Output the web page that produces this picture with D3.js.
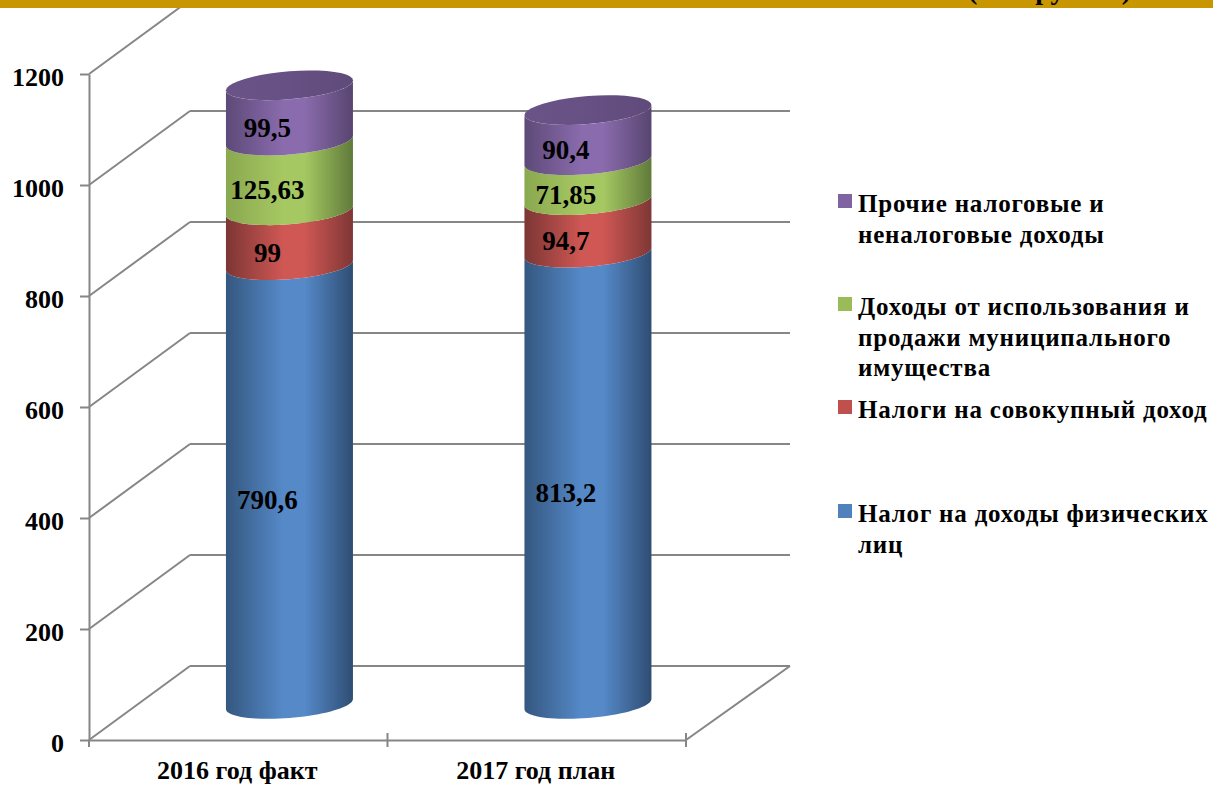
<!DOCTYPE html>
<html lang="ru">
<head>
<meta charset="utf-8">
<script src="https://cdn.jsdelivr.net/npm/d3@7"></script>
<style>
  html, body { margin: 0; background: #fff; overflow: hidden; }
  svg { display: block; }
  text { font-family: "Liberation Serif", serif; font-weight: bold; fill: #000; }
  .axis path, .axis line, .grid line { stroke: #868686; stroke-width: 2; fill: none; }
</style>
</head>
<body>
<div id="chart"></div>
<script>
const categories = ['2016 год факт', '2017 год план'];
const yTicks = [0, 200, 400, 600, 800, 1000, 1200];
const seriesNames = [
  'Налог на доходы физических лиц',
  'Налоги на совокупный доход',
  'Доходы от использования и продажи муниципального имущества',
  'Прочие налоговые и неналоговые доходы'
];
const ndflValues = [790.6, 813.2];
const usnValues = [99, 94.7];
const propertyValues = [125.63, 71.85];
const otherValues = [99.5, 90.4];
const valueLabels = [
  ['790,6', '813,2'],
  ['99', '94,7'],
  ['125,63', '71,85'],
  ['99,5', '90,4']
];
const legendLines = [
  ['Налог на доходы физических', 'лиц'],
  ['Налоги на совокупный доход'],
  ['Доходы от использования и', 'продажи муниципального', 'имущества'],
  ['Прочие налоговые и', 'неналоговые доходы']
];
const titleTail = '(млн рублей)';

const width = 1213, height = 785;
const depthX = 101, depthY = 74;
const rx = 63.5, ry = 14, tilt = 5;
const legendBaselines = [522, 418, 315, 212];

const colors = [
  { mid: '#5589c8', dark: '#34577f', side: '#2f4d73' },
  { mid: '#cf5754', dark: '#7c3634', side: '#7e3735' },
  { mid: '#a6c862', dark: '#8aa84f', side: '#5f7a3a' },
  { mid: '#8a6bad', dark: '#5d4a78', side: '#584570' }
];
const legendColors = ['#4f81bd', '#c0504d', '#9bbb59', '#8064a2'];

const svg = d3.select('#chart').append('svg').attr('width', width).attr('height', height);

const x = d3.scaleBand().domain(categories).range([89, 686]);
const y = d3.scaleLinear().domain([0, 1200]).range([740, 74]);

const defs = svg.append('defs');
colors.forEach((c, i) => {
  const g = defs.append('linearGradient').attr('id', 'grad' + i);
  g.append('stop').attr('offset', '0%').attr('stop-color', c.dark);
  g.append('stop').attr('offset', '45%').attr('stop-color', c.mid);
  g.append('stop').attr('offset', '62%').attr('stop-color', c.mid);
  g.append('stop').attr('offset', '100%').attr('stop-color', c.side);
});
const capGrad = defs.append('linearGradient').attr('id', 'cap');
capGrad.append('stop').attr('offset', '0%').attr('stop-color', '#6a5386');
capGrad.append('stop').attr('offset', '50%').attr('stop-color', '#675084');
capGrad.append('stop').attr('offset', '100%').attr('stop-color', '#5f4b7a');

// back wall and left wall grid
const grid = svg.append('g').attr('class', 'grid');
grid.selectAll('.wall').data(yTicks).enter().append('line')
  .attr('class', 'wall')
  .attr('x1', 89 + depthX).attr('x2', 686 + depthX + 3)
  .attr('y1', d => y(d) - depthY).attr('y2', d => y(d) - depthY);
grid.selectAll('.side').data(yTicks).enter().append('line')
  .attr('class', 'side')
  .attr('x1', 89).attr('x2', 89 + depthX)
  .attr('y1', d => y(d)).attr('y2', d => y(d) - depthY);
grid.append('line')
  .attr('x1', 686).attr('x2', 686 + depthX + 3)
  .attr('y1', y(0)).attr('y2', y(0) - depthY);

// axes
svg.append('g').attr('class', 'axis')
  .attr('transform', 'translate(89,0)')
  .call(d3.axisLeft(y).tickValues(yTicks).tickFormat(d3.format('d')).tickSize(9).tickPadding(16).tickSizeOuter(0))
  .call(g => g.selectAll('text').attr('dy', 11).style('font-size', '26px'));

const xAxis = svg.append('g').attr('class', 'axis')
  .attr('transform', 'translate(0,' + y(0) + ')')
  .call(d3.axisBottom(x).tickSize(0).tickSizeOuter(0).tickPadding(33));
xAxis.selectAll('text').style('font-size', '26px').attr('dy', 0).attr('y', 39).attr('dx', -1);
xAxis.selectAll('.sep').data([0, 1, 2]).enter().append('line')
  .attr('class', 'sep')
  .attr('x1', i => 89 + i * x.step()).attr('x2', i => 89 + i * x.step())
  .attr('y1', i => i === 0 ? 0 : -7).attr('y2', 7);

// cylinders
const rim = d3.line();
const arc = (cx, cy, from, to) => d3.range(0, 41).map(i => {
  const t = from + (to - from) * i / 40;
  return [cx + rx * Math.cos(t), cy + ry * Math.sin(t) - tilt * Math.cos(t)];
});

const seriesValues = [ndflValues, usnValues, propertyValues, otherValues];
const stacked = categories.map((c, ci) => {
  let sum = 0;
  return seriesValues.map((vals, si) => {
    const start = sum;
    sum += vals[ci];
    return { ci, si, start, end: sum, label: valueLabels[si][ci] };
  });
});

const baseY = y(0) - depthY / 2 + 1;
const scaleH = v => y(0) - y(v);
const cxOf = ci => x(categories[ci]) + x.bandwidth() / 2 + depthX / 2 + 0.7;

const bars = svg.append('g').selectAll('g').data(stacked).enter().append('g');
bars.selectAll('path.seg').data(d => d).enter().append('path')
  .attr('class', 'seg')
  .attr('fill', d => 'url(#grad' + d.si + ')')
  .attr('d', d => {
    const cx = cxOf(d.ci);
    const low = arc(cx, baseY - scaleH(d.start), Math.PI, 0);
    const up = arc(cx, baseY - scaleH(d.end), 0, Math.PI);
    return rim(low.concat(up)) + 'Z';
  });
bars.append('path')
  .attr('fill', 'url(#cap)')
  .attr('d', d => {
    const top = d[d.length - 1];
    return rim(arc(cxOf(top.ci), baseY - scaleH(top.end), 0, Math.PI * 2)) + 'Z';
  });
bars.selectAll('text').data(d => d).enter().append('text')
  .attr('x', d => cxOf(d.ci) - 22)
  .attr('y', d => baseY - scaleH((d.start + d.end) / 2) + 24)
  .attr('text-anchor', 'middle')
  .style('font-size', '27px')
  .text(d => d.label);

// legend
const legend = svg.append('g').selectAll('g').data(legendLines).enter().append('g')
  .attr('aria-label', (d, i) => seriesNames[i]);
legend.append('rect')
  .attr('x', 838).attr('width', 14).attr('height', 14)
  .attr('y', (d, i) => legendBaselines[i] - 18)
  .attr('fill', (d, i) => legendColors[i]);
legend.each(function (lines, i) {
  d3.select(this).selectAll('text').data(lines).enter().append('text')
    .attr('x', 858)
    .attr('y', (d, j) => legendBaselines[i] + j * 30.5)
    .style('font-size', '25px')
    .style('letter-spacing', '0.8px')
    .text(d => d);
});

// top band with the clipped end of the slide title
svg.append('rect').attr('width', width).attr('height', 8).attr('fill', '#c89600');
svg.append('text')
  .attr('x', 968).attr('y', -1)
  .style('font-size', '28px')
  .text(titleTail);
</script>
</body>
</html>
